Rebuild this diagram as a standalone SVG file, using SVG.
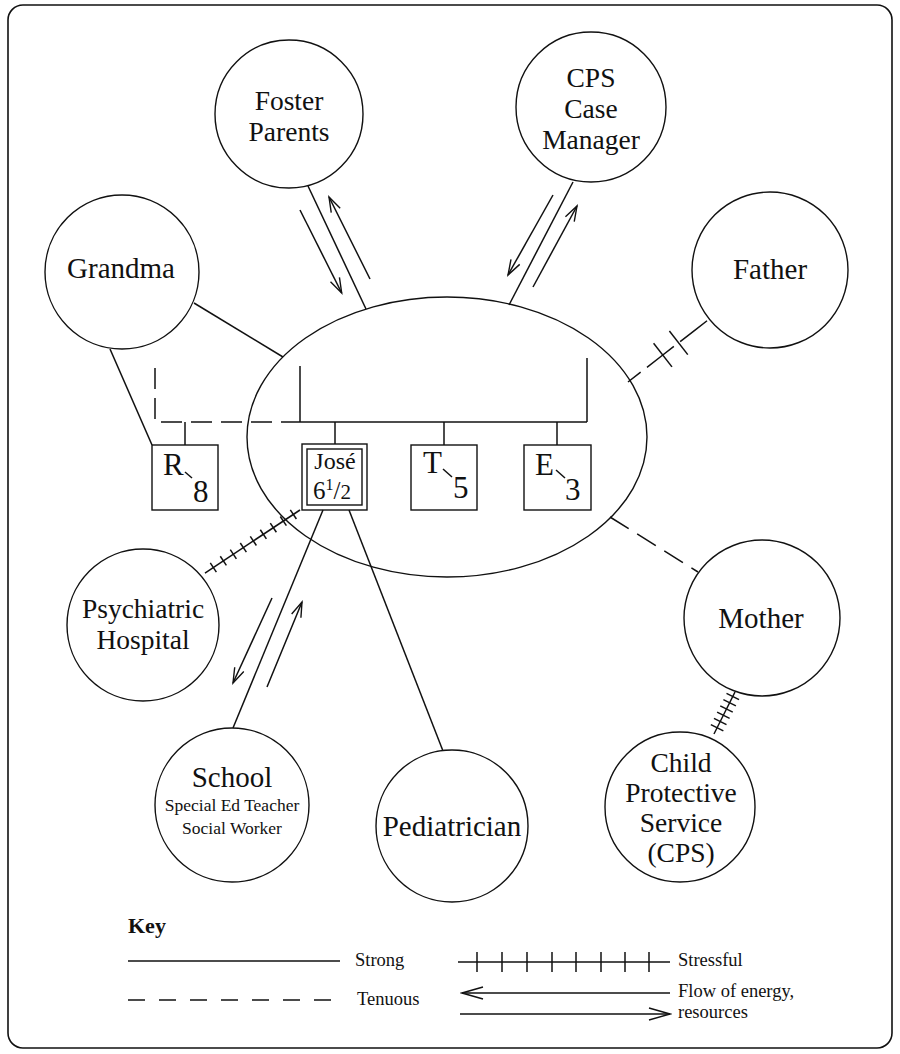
<svg xmlns="http://www.w3.org/2000/svg" width="900" height="1054" viewBox="0 0 900 1054">
<style>
.n { fill: #fff; stroke: #111; stroke-width: 1.4 }
.b { fill: none; stroke: #111; stroke-width: 1.4 }
.t { font-family: "Liberation Serif", "Times New Roman", serif; font-size: 29px; text-anchor: middle; fill: #111 }
.m { font-size: 27.5px }
.s { font-family: "Liberation Serif", "Times New Roman", serif; font-size: 31px; fill: #111 }
.k { font-family: "Liberation Serif", "Times New Roman", serif; font-size: 18.5px; fill: #111 }
.c { stroke: #111; stroke-width: 1.5; fill: none }
.d { stroke-dasharray: 21 9 }
.a { marker-end: url(#ah) }
</style>
<defs>
<marker id="ah" markerWidth="18" markerHeight="12" refX="16" refY="6" orient="auto" markerUnits="userSpaceOnUse">
<path d="M1,1 L16,6 L1,11" fill="none" stroke="#111" stroke-width="1.4"/>
</marker>
<marker id="ahk" markerWidth="24" markerHeight="14" refX="22" refY="7" orient="auto" markerUnits="userSpaceOnUse">
<path d="M1,1 L22,7 L1,13" fill="none" stroke="#111" stroke-width="1.4"/>
</marker>
</defs>
<rect x="1" y="1" width="898" height="1052" fill="#fff"/>
<rect x="8" y="5" width="884" height="1043" rx="15" fill="none" stroke="#111" stroke-width="1.6"/>

<g id="connectors">
  <!-- Foster parents -->
  <line class="c" x1="308" y1="186" x2="366" y2="309"/>
  <line class="c a" x1="300" y1="210" x2="341.7" y2="293"/>
  <line class="c a" x1="370" y1="279" x2="329" y2="197"/>
  <!-- CPS case manager -->
  <line class="c" x1="573" y1="182" x2="509" y2="305"/>
  <line class="c a" x1="553" y1="195" x2="508" y2="275"/>
  <line class="c a" x1="533" y1="287" x2="577" y2="206"/>
  <!-- Grandma -->
  <line class="c" x1="194" y1="303" x2="283" y2="357"/>
  <line class="c" x1="110" y1="349" x2="152" y2="445"/>
  <!-- Father (tenuous, broken) -->
  <g transform="translate(628,382) rotate(-37.78)">
    <line class="c" x1="0" y1="0" x2="101" y2="0" stroke-dasharray="16 8 18 0"/>
    <line class="c" x1="44" y1="-15" x2="44" y2="15"/>
    <line class="c" x1="64" y1="-15" x2="64" y2="15"/>
  </g>
  <!-- Mother (tenuous) -->
  <line class="c" x1="610" y1="517" x2="698" y2="572" stroke-dasharray="22 10"/>
  <!-- Mother - CPS (stressful) -->
  <g transform="translate(735,692) rotate(116.57)">
    <line class="c" x1="0" y1="0" x2="47" y2="0"/>
    <line class="c" x1="5" y1="-7" x2="5" y2="7"/>
    <line class="c" x1="12" y1="-7" x2="12" y2="7"/>
    <line class="c" x1="19" y1="-7" x2="19" y2="7"/>
    <line class="c" x1="26" y1="-7" x2="26" y2="7"/>
    <line class="c" x1="33" y1="-7" x2="33" y2="7"/>
    <line class="c" x1="40" y1="-7" x2="40" y2="7"/>
  </g>
  <!-- Psychiatric hospital (stressful) -->
  <g transform="translate(300,510) rotate(146.45)">
    <line class="c" x1="0" y1="0" x2="114" y2="0"/>
    <line class="c" x1="8" y1="-5.5" x2="8" y2="5.5"/>
    <line class="c" x1="20" y1="-5.5" x2="20" y2="5.5"/>
    <line class="c" x1="32" y1="-5.5" x2="32" y2="5.5"/>
    <line class="c" x1="44" y1="-5.5" x2="44" y2="5.5"/>
    <line class="c" x1="56" y1="-5.5" x2="56" y2="5.5"/>
    <line class="c" x1="68" y1="-5.5" x2="68" y2="5.5"/>
    <line class="c" x1="80" y1="-5.5" x2="80" y2="5.5"/>
    <line class="c" x1="92" y1="-5.5" x2="92" y2="5.5"/>
    <line class="c" x1="104" y1="-5.5" x2="104" y2="5.5"/>
  </g>
  <!-- School -->
  <line class="c" x1="323" y1="510" x2="233" y2="728"/>
  <line class="c a" x1="272" y1="598" x2="233" y2="683"/>
  <line class="c a" x1="267" y1="687" x2="302" y2="602"/>
  <!-- Pediatrician -->
  <line class="c" x1="349" y1="510" x2="443" y2="751"/>
  <!-- family lines -->
  <path class="c d" d="M155,368 V422 H300"/>
  <line class="c" x1="300" y1="422" x2="587" y2="422"/>
  <line class="c" x1="300" y1="366" x2="300" y2="422"/>
  <line class="c" x1="587" y1="358" x2="587" y2="422"/>
  <line class="c" x1="185" y1="422" x2="185" y2="445"/>
  <line class="c" x1="335" y1="422" x2="335" y2="444"/>
  <line class="c" x1="444" y1="422" x2="444" y2="445"/>
  <line class="c" x1="557" y1="422" x2="557" y2="445"/>
</g>

<g id="household">
  <ellipse class="b" cx="447" cy="437" rx="200" ry="140"/>
</g>

<g id="foster-parents">
  <circle class="n" cx="289" cy="114" r="74"/>
  <text class="t m" x="289" y="110">Foster</text>
  <text class="t m" x="289" y="141">Parents</text>
</g>
<g id="cps-case-manager">
  <circle class="n" cx="591" cy="107" r="75"/>
  <text class="t m" x="591" y="87">CPS</text>
  <text class="t m" x="591" y="118">Case</text>
  <text class="t m" x="591" y="149">Manager</text>
</g>
<g id="grandma">
  <circle class="n" cx="122" cy="272" r="77"/>
  <text class="t" x="121" y="278">Grandma</text>
</g>
<g id="father">
  <circle class="n" cx="770" cy="270" r="78"/>
  <text class="t" x="770" y="279">Father</text>
</g>
<g id="psychiatric-hospital">
  <circle class="n" cx="143" cy="625" r="76"/>
  <text class="t m" x="143" y="618">Psychiatric</text>
  <text class="t m" x="143" y="649">Hospital</text>
</g>
<g id="mother">
  <circle class="n" cx="762" cy="618" r="78"/>
  <text class="t" x="761" y="628">Mother</text>
</g>
<g id="school">
  <circle class="n" cx="232" cy="805" r="77"/>
  <text class="t" x="232" y="787">School</text>
  <text class="t" x="232" y="811" style="font-size:17.5px">Special Ed Teacher</text>
  <text class="t" x="232" y="834" style="font-size:17.5px">Social Worker</text>
</g>
<g id="pediatrician">
  <circle class="n" cx="452" cy="826" r="76"/>
  <text class="t" x="452" y="836">Pediatrician</text>
</g>
<g id="child-protective-service">
  <circle class="n" cx="680" cy="807" r="75"/>
  <text class="t m" x="681" y="772">Child</text>
  <text class="t m" x="681" y="802">Protective</text>
  <text class="t m" x="681" y="832">Service</text>
  <text class="t m" x="681" y="862">(CPS)</text>
</g>

<g id="r8">
  <rect class="b" x="152" y="445" width="66" height="65"/>
  <text class="s" x="163" y="475">R</text>
  <line class="c" x1="185" y1="472" x2="192" y2="478"/>
  <text class="s" x="193" y="502">8</text>
</g>
<g id="jose">
  <rect class="b" x="302" y="444" width="65" height="66"/>
  <rect class="b" x="307" y="449" width="55" height="56"/>
  <text class="t" x="335" y="469" style="font-size:24px">José</text>
  <text class="s" x="313" y="499" style="font-size:25px">6<tspan style="font-size:16px" dy="-9">1</tspan><tspan style="font-size:25px" dy="9">/</tspan><tspan style="font-size:21px">2</tspan></text>
</g>
<g id="t5">
  <rect class="b" x="411" y="445" width="66" height="65"/>
  <text class="s" x="423" y="473">T</text>
  <line class="c" x1="443" y1="469" x2="452" y2="477"/>
  <text class="s" x="453" y="498">5</text>
</g>
<g id="e3">
  <rect class="b" x="524" y="445" width="67" height="65"/>
  <text class="s" x="535" y="475">E</text>
  <line class="c" x1="556" y1="470" x2="565" y2="478"/>
  <text class="s" x="565" y="500">3</text>
</g>

<g id="key">
  <text class="k" x="128" y="933" style="font-size:22px;font-weight:bold">Key</text>
  <line class="c" x1="128" y1="961" x2="340" y2="961"/>
  <text class="k" x="355" y="966">Strong</text>
  <line class="c" x1="128" y1="1000" x2="332" y2="1000" stroke-dasharray="17 14"/>
  <text class="k" x="357" y="1005">Tenuous</text>
  <line class="c" x1="458" y1="962" x2="670" y2="962"/>
  <g class="c">
    <line x1="477" y1="952" x2="477" y2="972"/>
    <line x1="502" y1="952" x2="502" y2="972"/>
    <line x1="527" y1="952" x2="527" y2="972"/>
    <line x1="552" y1="952" x2="552" y2="972"/>
    <line x1="576" y1="952" x2="576" y2="972"/>
    <line x1="601" y1="952" x2="601" y2="972"/>
    <line x1="625" y1="952" x2="625" y2="972"/>
    <line x1="649" y1="952" x2="649" y2="972"/>
  </g>
  <text class="k" x="678" y="966">Stressful</text>
  <line class="c" x1="670" y1="993" x2="462" y2="993" marker-end="url(#ahk)"/>
  <line class="c" x1="460" y1="1014" x2="670" y2="1014" marker-end="url(#ahk)"/>
  <text class="k" x="678" y="997">Flow of energy,</text>
  <text class="k" x="678" y="1018">resources</text>
</g>
</svg>
